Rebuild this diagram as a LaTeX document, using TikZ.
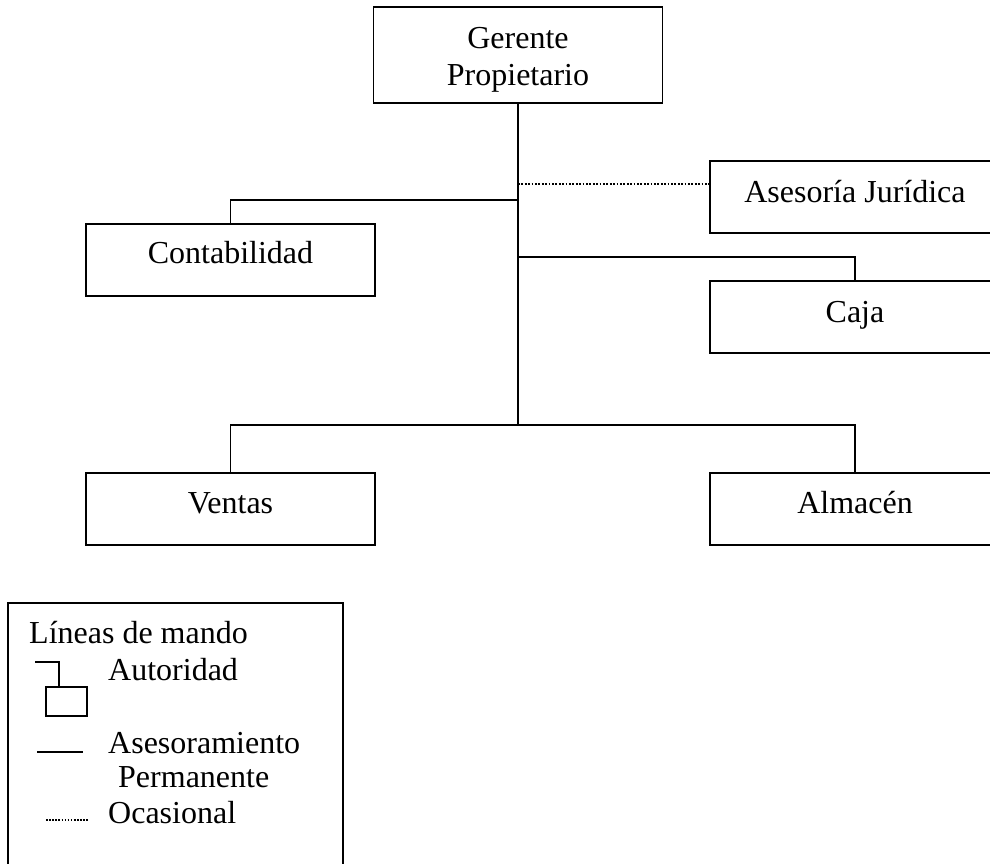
\documentclass[tikz,border=0pt]{standalone}
\usepackage{fontspec}
\setmainfont{Liberation Serif}
\begin{document}
\begin{tikzpicture}[x=1pt,y=-1pt,
  box/.style={draw, line width=1.9pt, minimum width=289pt, minimum height=72pt, inner sep=0pt},
  txt/.style={anchor=base, inner sep=0pt, font=\fontsize{32}{37}\selectfont},
  wire/.style={line width=1.9pt},
  occ/.style={line width=2pt, dash pattern=on 1.8pt off 1.6pt}]
\useasboundingbox (0,0) rectangle (990,863);
% boxes
\node[box, minimum height=96pt] (ger) at (518,55) {};
\node[box] (conta) at (230.5,260) {};
\node[box, minimum width=290pt] (ase) at (855,197) {};
\node[box, minimum width=290pt] (caja) at (855,317) {};
\node[box] (ventas) at (230.5,509) {};
\node[box, minimum width=290pt] (alm) at (855,509) {};
% texts
\node[txt] (t1) at (518,48) {Gerente};
\node[txt] (t2) at (518,85) {Propietario};
\node[txt] (t3) at (230.5,263) {Contabilidad};
\node[txt] (t4) at (855,202) {Asesoría Jurídica};
\node[txt] (t5) at (855,322) {Caja};
\node[txt] (t6) at (230.5,513) {Ventas};
\node[txt] (t7) at (855,513) {Almacén};
% connectors
\coordinate (bus) at (518,425);
\coordinate (jc) at (518,200);
\coordinate (jk) at (518,257);
\coordinate (jd) at (518,184);
\draw[wire] (ger.south) -- (bus);
\draw[wire] (conta.north) |- (jc);
\draw[wire] (caja.north) |- (jk);
\draw[wire] (ventas.north) |- (bus) -| (alm.north);
\draw[occ] (jd) -- (ase.west |- jd);
% legend
\node[draw, line width=1.9pt, minimum width=335pt, minimum height=290pt, inner sep=0pt] (leg) at (175.5,748) {};
\node[txt, anchor=base west] (l1) at (29,643) {Líneas de mando};
\node[txt, anchor=base west] (l2) at (108,680) {Autoridad};
\node[txt, anchor=base west] (l3) at (108,753) {Asesoramiento};
\node[txt, anchor=base west] (l4) at (118,787) {Permanente};
\node[txt, anchor=base west] (l5) at (108,823) {Ocasional};
\draw[line width=1.5pt] (35,662) -- (59,662) -- (59,687);
\draw[line width=1.5pt] (46,687) rectangle (87,716);
\draw[line width=1.6pt] (37,752) -- (83,752);
\draw[line width=1.6pt, dash pattern=on 1.6pt off 1.5pt] (46,820) -- (89,820);
\end{tikzpicture}
\end{document}
